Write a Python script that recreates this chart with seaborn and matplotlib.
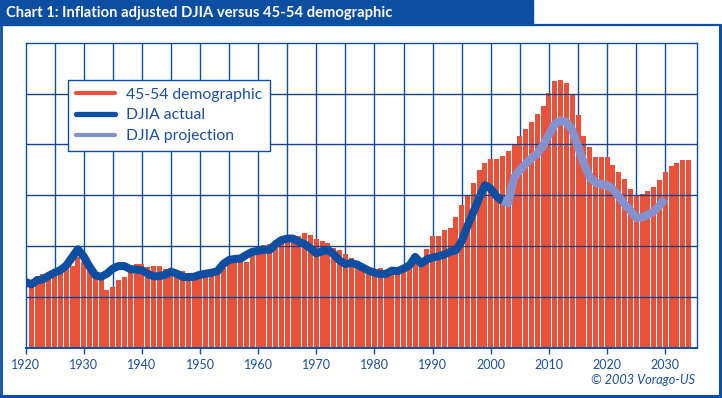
import matplotlib
matplotlib.use("Agg")
import matplotlib.pyplot as plt
import seaborn as sns
from matplotlib.lines import Line2D
from matplotlib.patches import Rectangle

# ---------------- data ----------------
bar_years = list(range(1921, 2035))
demographic = [
    13.0, 14.2, 14.5, 14.5, 14.9, 15.3, 15.6, 16.1, 17.9, 16.9,   # 1921-1930
    15.9, 15.0, 13.7, 11.4, 12.0, 13.3, 14.0, 16.3, 16.5, 16.5,   # 1931-1940
    15.9, 16.1, 16.1, 15.6, 15.6, 15.3, 15.1, 14.8, 14.6, 14.5,   # 1941-1950
    14.6, 14.8, 15.2, 15.8, 16.9, 16.9, 16.9, 16.9, 18.2, 19.5,   # 1951-1960
    20.2, 20.4, 20.6, 21.2, 21.6, 21.8, 22.0, 22.6, 22.2, 21.4,   # 1961-1970
    21.0, 20.7, 19.7, 19.2, 18.4, 17.6, 16.9, 16.1, 15.3, 14.6,   # 1971-1980
    15.8, 15.2, 15.3, 15.5, 15.8, 16.3, 17.0, 17.3, 19.5, 22.0,   # 1981-1990
    22.0, 23.1, 23.5, 25.7, 28.2, 30.0, 32.5, 35.0, 36.4, 37.1,   # 1991-2000
    37.1, 37.8, 38.8, 40.1, 41.6, 43.1, 44.5, 45.9, 47.6, 50.1,   # 2001-2010
    52.4, 52.6, 52.0, 49.7, 45.7, 41.6, 39.5, 37.6, 37.5, 37.6,   # 2011-2020
    35.9, 34.6, 33.3, 31.3, 30.0, 30.2, 30.8, 31.6, 33.1, 34.5,   # 2021-2030
    35.7, 36.4, 37.0, 37.0,                                       # 2031-2034
]
djia_years = list(range(1920, 2003))
djia_actual = [
    13.0, 12.5, 13.3, 13.5, 14.2, 14.8, 15.3, 16.2, 17.8, 19.4,   # 1920-1929
    18.0, 16.0, 14.3, 14.0, 14.6, 15.6, 16.1, 16.1, 15.5, 15.4,   # 1930-1939
    15.3, 14.6, 14.1, 14.1, 14.4, 15.0, 14.6, 14.0, 13.9, 14.0,   # 1940-1949
    14.4, 14.6, 14.8, 15.1, 16.5, 17.3, 17.5, 17.6, 18.3, 18.9,   # 1950-1959
    19.1, 19.3, 19.3, 20.4, 21.2, 21.5, 21.5, 20.9, 20.4, 19.6,   # 1960-1969
    18.6, 19.0, 19.3, 18.4, 17.2, 16.5, 16.7, 16.4, 15.8, 15.2,   # 1970-1979
    14.8, 14.5, 14.6, 15.2, 15.1, 15.6, 16.2, 17.9, 16.6, 17.4,   # 1980-1989
    17.8, 18.0, 18.4, 18.9, 19.2, 21.0, 24.0, 26.7, 29.5, 32.0,   # 1990-1999
    31.3, 29.8, 28.8,                                             # 2000-2002
]
proj_years = list(range(2002, 2031))
djia_projection = [
    28.8, 28.5, 33.5, 35.0, 36.2, 37.3, 38.2, 39.8, 42.0, 44.0,   # 2002-2011
    44.7, 44.4, 42.8, 39.5, 36.3, 33.6, 32.5, 32.2, 32.0, 31.2,   # 2012-2021
    29.8, 28.3, 27.0, 25.6, 25.7, 26.2, 26.8, 28.0, 29.3,         # 2022-2030
]
tick_years = list(range(1920, 2031, 10))
tick_labels = [str(y) for y in tick_years]
series_labels = ["45-54 demographic", "DJIA actual", "DJIA projection"]
title = "Chart 1: Inflation adjusted DJIA versus 45-54 demographic"
credit = "\u00a9 2003 Vorago-US"

# ---------------- style ----------------
RED = "#E8523B"
BLUE = "#0B4EA2"
LIGHT = "#8392CE"
TXT = "#1B4F9E"

sns.set_style("white")
plt.rcParams["font.family"] = ["Lato", "DejaVu Sans"]

W, H = 722, 398
fig = plt.figure(figsize=(W / 100, H / 100), dpi=100)
ax = fig.add_axes([25.5 / W, (H - 348) / H, (696.7 - 25.5) / W, (348 - 42.7) / H])

# grid (vertical under bars, horizontal over bars)
for gx in range(1925, 2035, 5):
    ax.axvline(gx, color=BLUE, lw=1.0, zorder=0.5)
for gy in range(10, 60, 10):
    ax.axhline(gy, color="#1C3F86", lw=1.0, zorder=1.5)

sns.barplot(x=bar_years, y=demographic, native_scale=True, orient="x",
            color=RED, saturation=1, width=0.86, errorbar=None,
            edgecolor="none", linewidth=0, ax=ax, zorder=1)
sns.lineplot(x=djia_years, y=djia_actual, color=BLUE, linewidth=5.8,
             ax=ax, zorder=3, solid_joinstyle="round", solid_capstyle="butt")
sns.lineplot(x=proj_years, y=djia_projection, color=LIGHT, linewidth=6.0,
             ax=ax, zorder=3, solid_joinstyle="round", solid_capstyle="butt")

ax.set_xlim(1920, 2035.4)
ax.set_ylim(0, 60)
ax.set_xticks(tick_years)
ax.set_xticklabels(tick_labels)
ax.set_yticks([])
ax.set_xlabel("")
ax.set_ylabel("")
ax.tick_params(axis="x", colors=BLUE, length=4, width=1, pad=4,
               labelsize=9, labelcolor=TXT, bottom=True, direction="out")
for s in ax.spines.values():
    s.set_color(BLUE)
    s.set_linewidth(1.0)
    s.set_visible(True)
ax.spines["bottom"].set_linewidth(1.4)

handles = [
    Line2D([], [], color=RED, lw=3.0),
    Line2D([], [], color=BLUE, lw=3.8),
    Line2D([], [], color=LIGHT, lw=3.0),
]
leg = ax.legend(handles, series_labels, loc="upper left",
                bbox_to_anchor=((67.7 - 25.5) / (696.7 - 25.5), (348 - 80) / (348 - 42.7)),
                borderaxespad=0, frameon=True, fancybox=False, framealpha=1,
                edgecolor=BLUE, fontsize=11.3, handlelength=2.5,
                handletextpad=0.7, labelspacing=0.42, borderpad=0.5,
                labelcolor=TXT)
leg.get_frame().set_linewidth(1.0)
leg.set_zorder(5)

# title bar and frame
fig.add_artist(Rectangle((0, 1 - 25 / H), 533 / W, 25 / H,
                         transform=fig.transFigure, color=BLUE, zorder=0))
fig.text(6 / W, 1 - 12.5 / H, title, color="white", fontsize=10.6,
         fontweight="bold", ha="left", va="center")
frame_kw = dict(transform=fig.transFigure, color=BLUE, zorder=0)
fig.add_artist(Line2D([533 / W, 1 - 1.5 / W], [1 - 24.5 / H, 1 - 24.5 / H], lw=1.6, **frame_kw))
fig.add_artist(Line2D([1 - 2 / W, 1 - 2 / W], [1 - 24.5 / H, 1.5 / H], lw=2.2, **frame_kw))
fig.add_artist(Line2D([1 / W, 1 / W], [1 - 24 / H, 1.5 / H], lw=2.0, **frame_kw))
fig.add_artist(Line2D([0, 1 - 1 / W], [2 / H, 2 / H], lw=2.2, **frame_kw))

fig.text(695 / W, (H - 380) / H, credit, color=TXT, fontsize=9.2,
         fontstyle="italic", ha="right", va="center")

fig.savefig("out.png", dpi=100)
